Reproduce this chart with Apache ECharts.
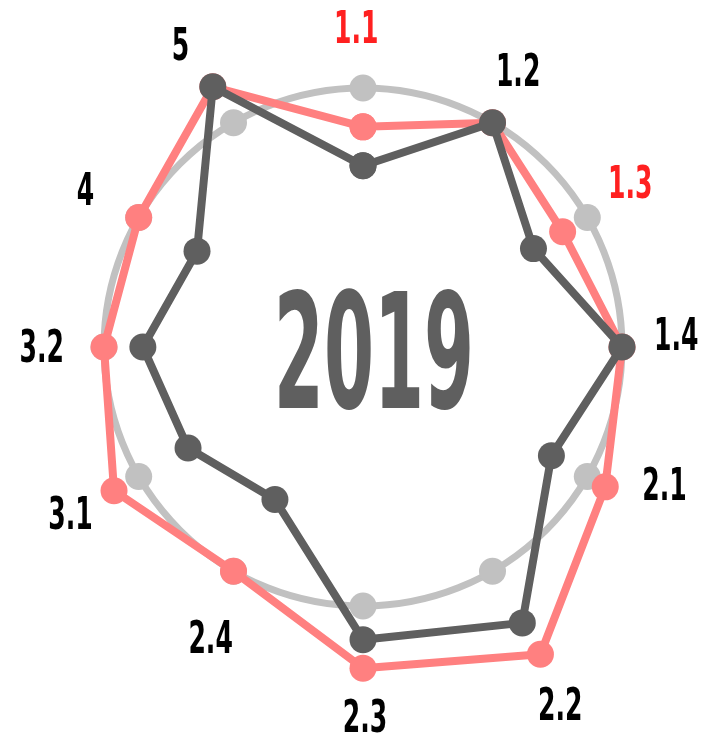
<!DOCTYPE html>
<html>
<head>
<meta charset="utf-8">
<script src="https://cdn.jsdelivr.net/npm/echarts@6/dist/echarts.min.js"></script>
<style>
  html, body { margin: 0; padding: 0; background: #fff; }
  #chart { width: 701px; height: 738px; }
</style>
</head>
<body>
<div id="chart"></div>
<script>
// indicators, clockwise from the top
const categories = ['1.1', '1.2', '1.3', '1.4', '2.1', '2.2', '2.3', '2.4', '3.1', '3.2', '4', '5'];
const highlighted = ['1.1', '1.3'];

// reference ring (gray) and the two 2019 profiles
const ringValues = [100, 100, 100, 100, 100, 100, 100, 100, 100, 100, 100, 100];
const pinkValues = [85, 100, 89, 100, 108, 137, 124, 100, 111, 100, 100, 116];
const darkValues = [70, 100, 76, 100, 84, 123, 113, 68, 78, 85, 74, 116];

// where each indicator name sits: radius (value scale) and angle (indicator index scale)
const labelRadius = [123, 122, 121, 121, 128, 158, 143, 127, 130, 124, 123, 136];
const labelAngle = [11.96, 0.98, 1.95, 2.93, 3.82, 5.04, 5.99, 6.92, 8.01, 9.0, 9.98, 10.96];

const yearText = '2019';

const GRAY = '#c1c1c1';
const PINK = '#ff8080';
const DARK = '#5f5f5f';
const RED = '#ff2020';
const CONDENSED = '"DejaVu Sans Condensed", "DejaVu Sans", sans-serif';

const CENTER = [363, 347];
const RING_R = 259;    // pixel radius of value 100
const OUTER_MAX = 160; // the profiles overshoot the ring, give them room
const N = categories.length;

// [radius, angleIndex] pairs; closed = one more point at index N (== 0) so the line loops
const toPolar = (values, closed) => {
    const pts = values.map((v, i) => [v, i]);
    return closed ? pts.concat([[values[0], N]]) : pts;
};

const hidden = { show: false };
const angleAxis = (polarIndex, ring) => ({
    polarIndex: polarIndex,
    type: 'value',
    min: 0,
    max: N,
    startAngle: 90,
    clockwise: true,
    axisLine: ring ? { show: true, lineStyle: { color: GRAY, width: 7 } } : hidden,
    axisTick: hidden,
    axisLabel: hidden,
    splitLine: hidden,
});
const radiusAxis = (polarIndex, max) => ({
    polarIndex: polarIndex,
    type: 'value',
    min: 0,
    max: max,
    axisLine: hidden,
    axisTick: hidden,
    axisLabel: hidden,
    splitLine: hidden,
});

const profile = (name, values, color, z) => ({
    type: 'line',
    name: name,
    coordinateSystem: 'polar',
    polarIndex: 1,
    z: z,
    silent: true,
    clip: false,
    symbol: 'circle',
    symbolSize: 27,
    showAllSymbol: true,
    itemStyle: { color: color },
    lineStyle: { color: color, width: 8 },
    data: toPolar(values, true),
});

const chart = echarts.init(document.getElementById('chart'));

chart.setOption({
    animation: false,
    polar: [
        { center: CENTER, radius: RING_R },
        { center: CENTER, radius: RING_R * OUTER_MAX / 100 },
    ],
    angleAxis: [angleAxis(0, true), angleAxis(1, false)],
    radiusAxis: [radiusAxis(0, 100), radiusAxis(1, OUTER_MAX)],
    graphic: [{
        type: 'text',
        x: 374,
        y: 366,
        scaleX: 0.5,
        z: 1,
        style: {
            text: yearText,
            align: 'center',
            verticalAlign: 'middle',
            fontFamily: CONDENSED,
            fontWeight: 'bold',
            fontSize: 160,
            fill: DARK,
        },
    }],
    series: [
        {
            type: 'scatter',
            name: 'ring',
            coordinateSystem: 'polar',
            polarIndex: 0,
            z: 2,
            silent: true,
            symbolSize: 27,
            itemStyle: { color: GRAY, opacity: 1 },
            data: toPolar(ringValues, false),
        },
        profile('pink', pinkValues, PINK, 3),
        profile('dark', darkValues, DARK, 4),
        {
            type: 'custom',
            name: 'labels',
            coordinateSystem: 'polar',
            polarIndex: 1,
            z: 5,
            silent: true,
            data: labelRadius.map((r, i) => [r, labelAngle[i]]),
            renderItem: (params, api) => {
                const pt = api.coord([api.value(0), api.value(1)]);
                const name = categories[params.dataIndex];
                return {
                    type: 'text',
                    x: pt[0],
                    y: pt[1] + 3,
                    scaleX: 0.62,
                    style: {
                        text: name,
                        align: 'center',
                        verticalAlign: 'middle',
                        fontFamily: CONDENSED,
                        fontWeight: 'bold',
                        fontSize: 45,
                        fill: highlighted.includes(name) ? RED : '#000',
                    },
                };
            },
        },
    ],
});
</script>
</body>
</html>
